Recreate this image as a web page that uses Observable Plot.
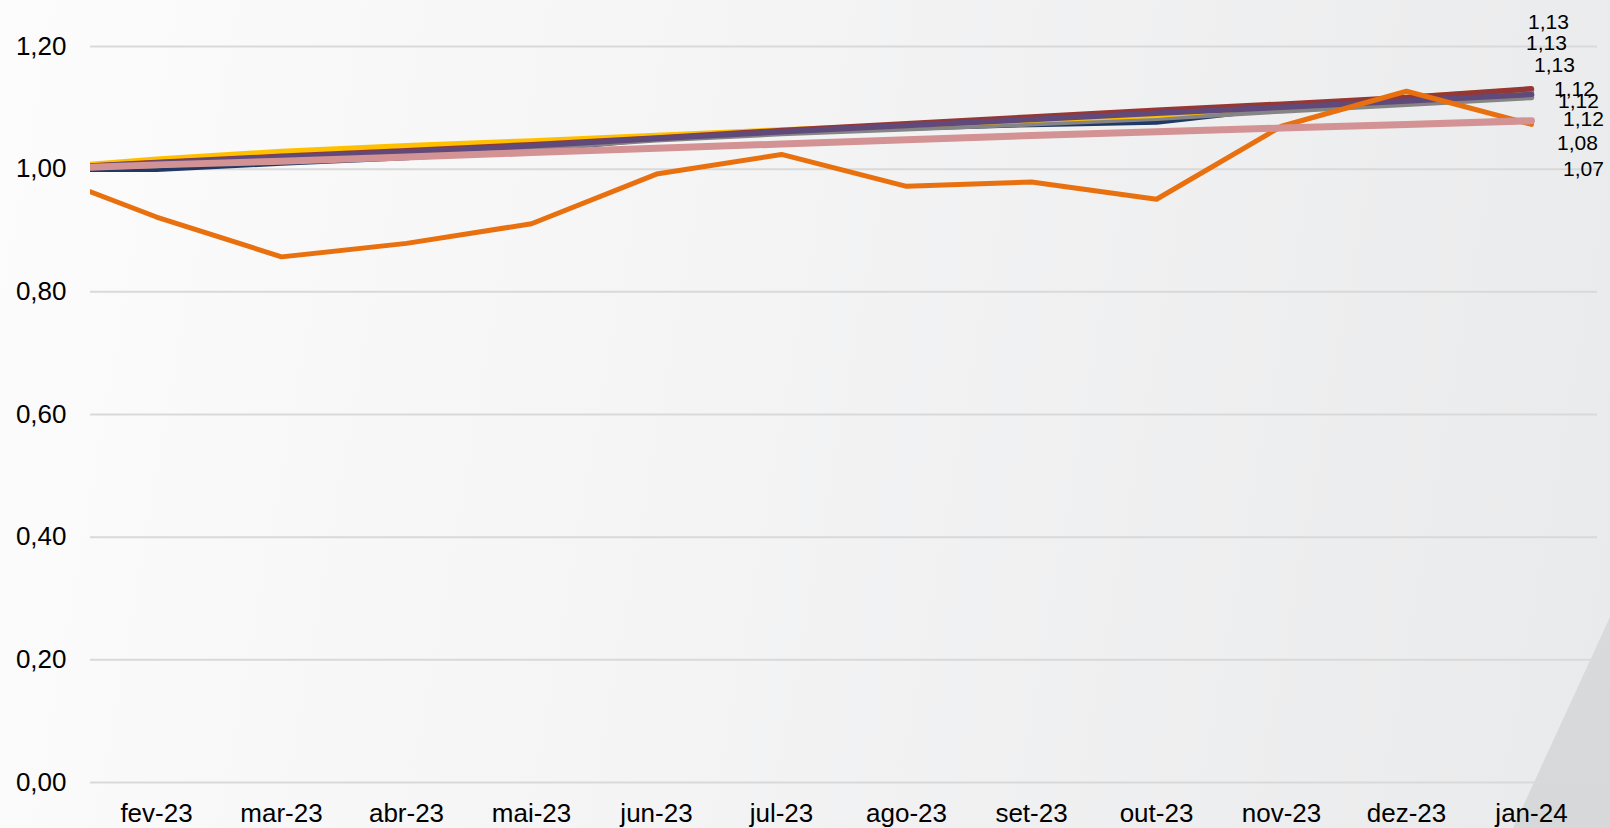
<!DOCTYPE html>
<html><head><meta charset="utf-8">
<script src="https://cdn.jsdelivr.net/npm/d3@7"></script>
<script src="https://cdn.jsdelivr.net/npm/@observablehq/plot@0.6"></script>
<style>
html,body{margin:0;padding:0;}
body{width:1610px;height:828px;overflow:hidden;position:relative;background:linear-gradient(100deg,#fcfcfc 0%,#f4f4f5 45%,#e9eaeb 100%);font-family:"Liberation Sans",Arial,sans-serif;}
#wedge{position:absolute;left:0;top:0;width:1610px;height:828px;background:linear-gradient(180deg,#dfe0e1,#d7d8d9);clip-path:polygon(1610px 617px,1513px 828px,1610px 828px);}
#chart{position:absolute;left:0;top:0;}
</style></head><body>
<div id="wedge"></div><div id="chart"></div>
<script>
// categories (jan-23 is the base month, lying just outside the visible frame)
const months = ["jan-23","fev-23","mar-23","abr-23","mai-23","jun-23","jul-23","ago-23","set-23","out-23","nov-23","dez-23","jan-24"];
const yTicks = [0, 0.2, 0.4, 0.6, 0.8, 1.0, 1.2];

// series values
const serieNavy    = [1.000, 1.000, 1.010, 1.019, 1.031, 1.050, 1.060, 1.067, 1.073, 1.077, 1.100, 1.112, 1.121];
const serieLavender= [1.000, 1.010, 1.020, 1.029, 1.039, 1.050, 1.062, 1.072, 1.083, 1.093, 1.103, 1.114, 1.128];
const serieGray    = [1.000, 1.006, 1.016, 1.024, 1.034, 1.048, 1.058, 1.066, 1.074, 1.083, 1.095, 1.106, 1.117];
const serieGold    = [1.000, 1.016, 1.029, 1.038, 1.046, 1.055, 1.064, 1.072, 1.080, 1.088, 1.104, 1.117, 1.130];
const serieDarkRed = [1.000, 1.011, 1.021, 1.030, 1.040, 1.051, 1.063, 1.074, 1.085, 1.096, 1.106, 1.117, 1.131];
const seriePurple  = [1.000, 1.010, 1.020, 1.028, 1.038, 1.050, 1.061, 1.071, 1.081, 1.091, 1.101, 1.111, 1.122];
const serieOrange  = [1.000, 0.922, 0.857, 0.879, 0.911, 0.992, 1.024, 0.972, 0.979, 0.951, 1.070, 1.127, 1.073];
const seriePink    = [1.000, 1.007, 1.013, 1.020, 1.027, 1.034, 1.041, 1.048, 1.055, 1.061, 1.067, 1.073, 1.079];

const fmt = v => v.toFixed(2).replace(".", ",");

// drawing order, styles and end-label offsets (styling, not data)
const series = [
  {values: serieNavy,     color: "#1f3864", width: 5.5, dx: 47, dy: 6},
  {values: serieLavender, color: "#6a5088", width: 5.5, dx: 23, dy: -25},
  {values: serieGray,     color: "#858585", width: 5.5, dx: 52, dy: 22},
  {values: serieGold,     color: "#ffc000", width: 5.5, dx: 15, dy: -46},
  {values: serieDarkRed,  color: "#953735", width: 5.5, dx: 17, dy: -67},
  {values: seriePurple,   color: "#604a7b", width: 5.5, dx: 43, dy: -5},
  {values: serieOrange,   color: "#e8700e", width: 5,   dx: 52, dy: 45},
  {values: seriePink,     color: "#d39293", width: 7,   dx: 46, dy: 23}
];

const lineMarks = series.map(s => Plot.line(months.map((m, i) => ({m, v: s.values[i]})), {
  x: "m", y: "v", stroke: s.color, strokeWidth: s.width, clip: true, curve: "linear"
}));
const labelMarks = series.map(s => Plot.text([{m: months[months.length - 1], v: s.values[s.values.length - 1]}], {
  x: "m", y: "v", text: d => fmt(d.v), dx: s.dx, dy: s.dy, fontSize: 21, fill: "#000", textAnchor: "middle"
}));

const chart = Plot.plot({
  width: 1610, height: 828,
  marginLeft: 90, marginRight: 13, marginTop: 46, marginBottom: 46,
  style: {background: "transparent", fontFamily: "Liberation Sans, Arial, sans-serif", fontSize: "26px", color: "#000", overflow: "visible"},
  x: {type: "point", domain: months, range: [27, 1535], padding: 0, axis: null},
  y: {domain: [0, 1.2], axis: null},
  marks: [
    Plot.ruleY(yTicks, {stroke: "#d9d9d9", strokeWidth: 2}),
    Plot.axisY(yTicks, {tickSize: 0, tickPadding: 24, tickFormat: fmt, fontSize: 26, fill: "#000", label: null}),
    Plot.axisX(months.slice(1), {tickSize: 0, tickPadding: 21, fontSize: 26, fill: "#000", label: null}),
    ...lineMarks,
    ...labelMarks
  ]
});
document.getElementById("chart").appendChild(chart);
</script>
</body></html>
